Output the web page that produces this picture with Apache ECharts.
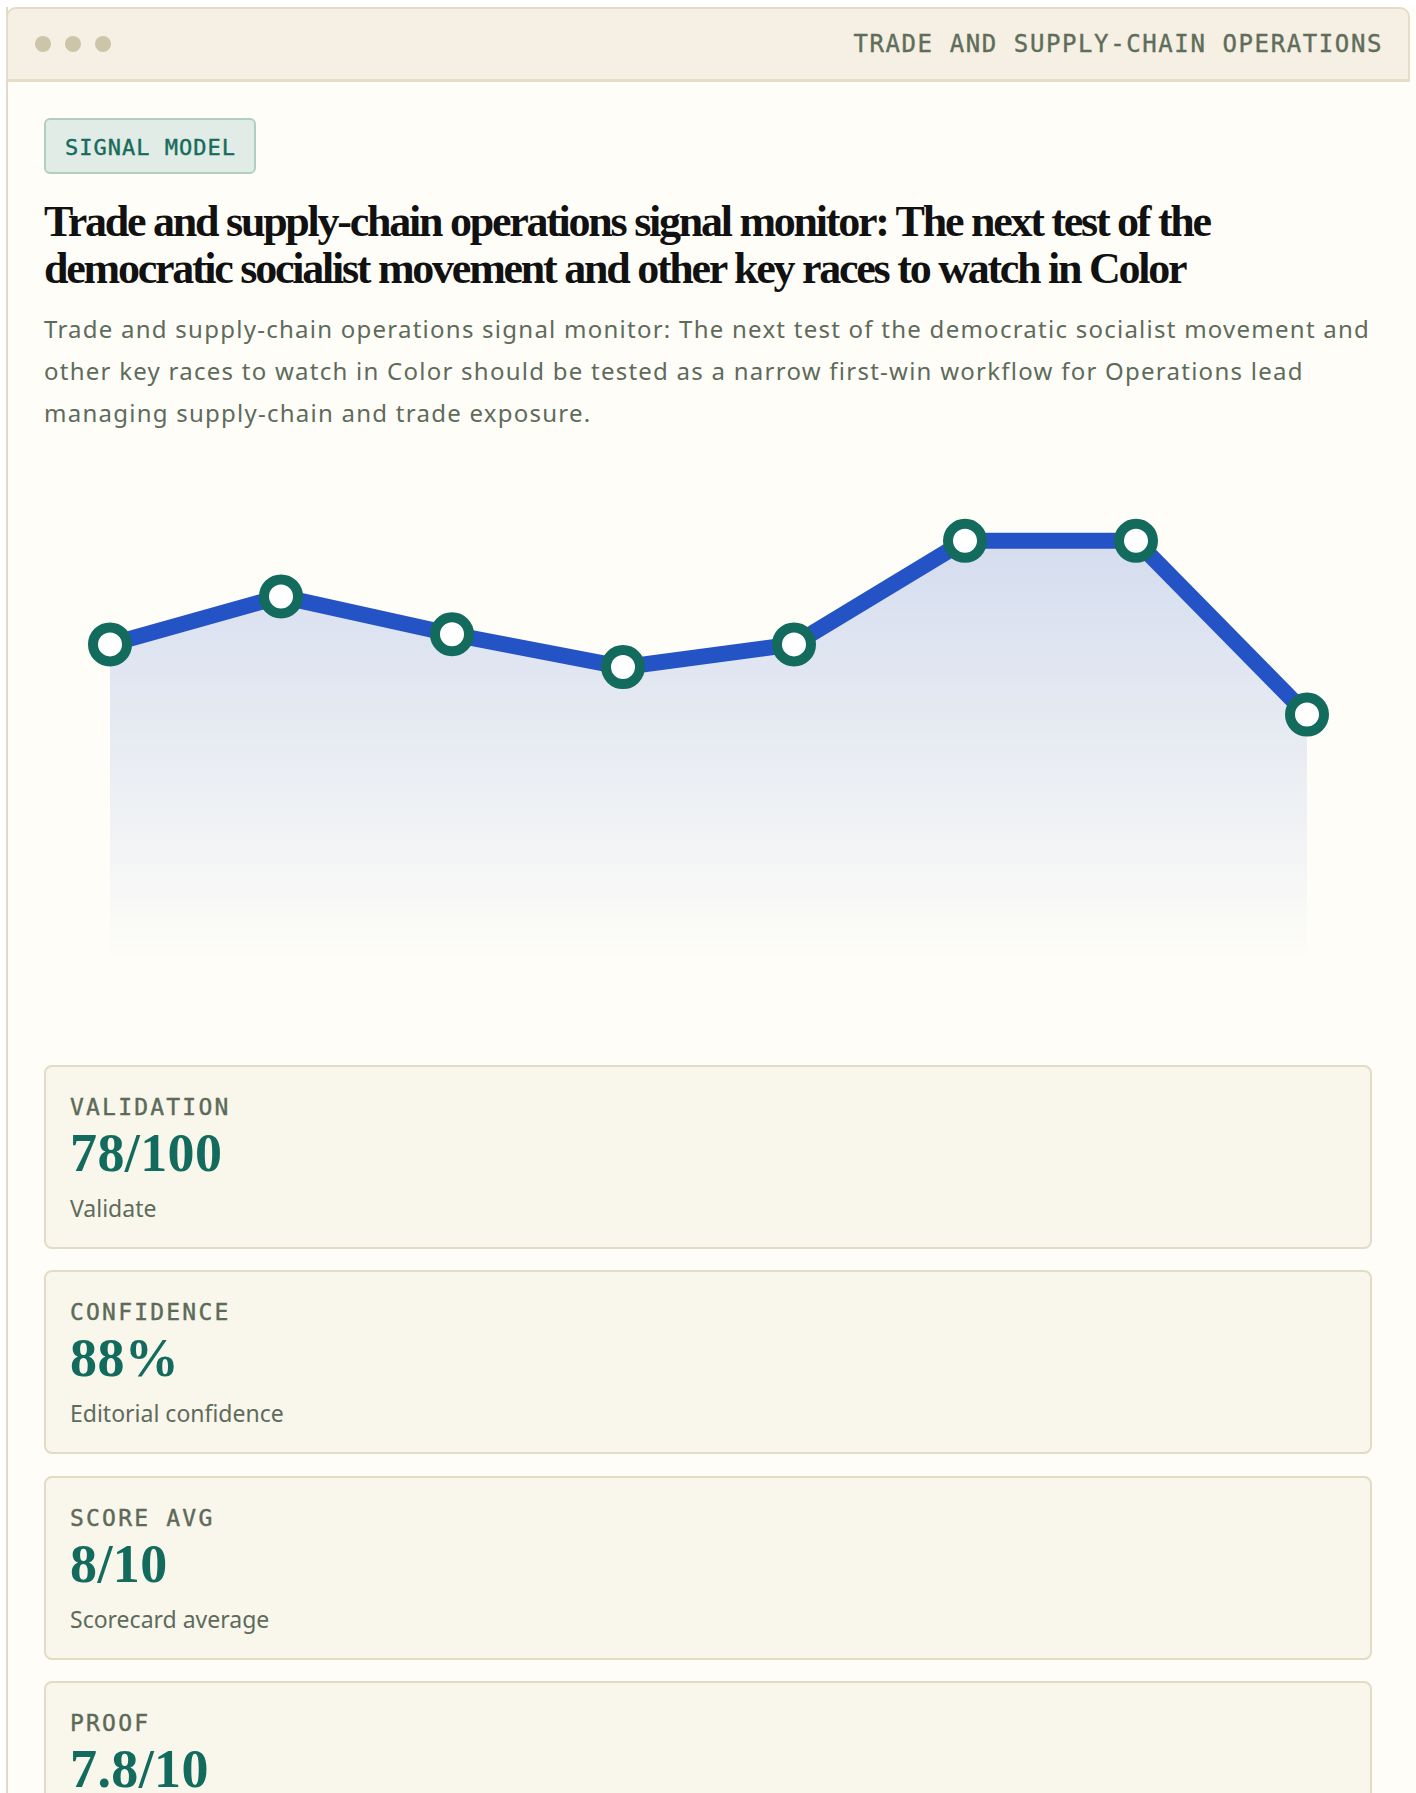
<!DOCTYPE html>
<html>
<head>
<meta charset="utf-8">
<script src="https://cdn.jsdelivr.net/npm/echarts@6/dist/echarts.min.js"></script>
<style>
  html, body { margin: 0; padding: 0; background: #ffffff; width: 1416px; height: 1793px; overflow: hidden; }
  .frame { position: absolute; left: 6px; top: 7px; width: 1420px; height: 1800px; background: #fefdf8;
           border-left: 2px solid #e2dac6; box-sizing: border-box; }
  .header { position: absolute; left: 6px; top: 7px; width: 1404px; height: 75px; background: #f6f0e4;
            border: 2px solid #e4dcc9; border-bottom: 3px solid #e6dcc8; border-radius: 10px 10px 0 0; box-sizing: border-box; }
  .dot { position: absolute; top: 27px; width: 16px; height: 16px; border-radius: 50%; background: #cdc5aa; }
  .htitle { position: absolute; right: 25px; top: 23px; font-family: "DejaVu Sans Mono", monospace; font-size: 24px;
            line-height: 1; letter-spacing: 1.6px; color: #5e6e5a; white-space: nowrap; -webkit-text-stroke: 0.4px #5e6e5a; }
  .badge { position: absolute; left: 44px; top: 118px; width: 212px; height: 56px; box-sizing: border-box;
           background: #e1ece6; border: 2px solid #b0cfc1; border-radius: 6px; }
  .badge span { position: absolute; left: 19px; top: 16.5px; font-family: "DejaVu Sans Mono", monospace; font-size: 22px;
                line-height: 1; letter-spacing: 1.0px; color: #176b5c; white-space: nowrap; -webkit-text-stroke: 0.4px #176b5c; }
  .title { position: absolute; left: 44px; top: 198px; font-family: "Liberation Serif", serif; font-weight: bold;
           font-size: 44px; line-height: 47px; letter-spacing: -2.25px; color: #111111; white-space: nowrap; }
  .sub { position: absolute; left: 44px; top: 308px; font-family: "Noto Sans", sans-serif; font-size: 24px;
         line-height: 42px; letter-spacing: 1.25px; color: #5e6b5b; white-space: nowrap; }
  #chart { position: absolute; left: 6px; top: 420px; width: 1410px; height: 600px; }
  .card { position: absolute; left: 44px; width: 1328px; height: 184px; box-sizing: border-box; background: #f9f6ec;
          border: 2px solid #e3dbc5; border-radius: 8px; }
  .card .lab { position: absolute; left: 24px; top: 29px; font-family: "DejaVu Sans Mono", monospace; font-size: 23px;
               line-height: 1; letter-spacing: 2.2px; color: #5c6a58; white-space: nowrap; -webkit-text-stroke: 0.4px #5c6a58; }
  .card .val { position: absolute; left: 24px; top: 59px; font-family: "Liberation Serif", serif; font-weight: bold;
               font-size: 54px; line-height: 1; color: #136b5e; white-space: nowrap; letter-spacing: 0.4px; }
  .card .cap { position: absolute; left: 24px; top: 130px; font-family: "Noto Sans", sans-serif; font-size: 23px;
               line-height: 1; letter-spacing: 0px; color: #5e6b5b; white-space: nowrap; }
</style>
</head>
<body>
<div class="frame"></div>
<div class="header">
  <div class="dot" style="left:27px"></div>
  <div class="dot" style="left:57px"></div>
  <div class="dot" style="left:87px"></div>
  <div class="htitle">TRADE AND SUPPLY-CHAIN OPERATIONS</div>
</div>
<div class="badge"><span>SIGNAL MODEL</span></div>
<div class="title">Trade and supply-chain operations signal monitor: The next test of the<br>democratic socialist movement and other key races to watch in Color</div>
<div class="sub">Trade and supply-chain operations signal monitor: The next test of the democratic socialist movement and<br>other key races to watch in Color should be tested as a narrow first-win workflow for Operations lead<br>managing supply-chain and trade exposure.</div>
<div id="chart"></div>
<div id="cards"></div>
<script>
// ---- data ----
const categories = ['P1', 'P2', 'P3', 'P4', 'P5', 'P6', 'P7', 'P8'];
const signalValues = [62.5, 72, 64.5, 58, 62.5, 83, 83, 48.6];
const cardLabels = ['VALIDATION', 'CONFIDENCE', 'SCORE AVG', 'PROOF'];
const cardValues = ['78/100', '88%', '8/10', '7.8/10'];
const cardCaptions = ['Validate', 'Editorial confidence', 'Scorecard average', 'Proof score'];

// ---- cards ----
const cardTops = [1065, 1270, 1476, 1681];
const cardsEl = document.getElementById('cards');
cardLabels.forEach((lab, i) => {
  const c = document.createElement('div');
  c.className = 'card';
  c.style.top = cardTops[i] + 'px';
  c.innerHTML = '<div class="lab"></div><div class="val"></div><div class="cap"></div>';
  c.querySelector('.lab').textContent = lab;
  c.querySelector('.val').textContent = cardValues[i];
  c.querySelector('.cap').textContent = cardCaptions[i];
  cardsEl.appendChild(c);
});

// ---- chart ----
const chart = echarts.init(document.getElementById('chart'), null, { renderer: 'canvas' });
chart.setOption({
  animation: false,
  backgroundColor: 'transparent',
  grid: { left: 104, right: 109, top: 35, bottom: 60 },
  xAxis: { type: 'category', data: categories, boundaryGap: false, show: false },
  yAxis: { type: 'value', min: 0, max: 100, show: false, splitLine: { show: false } },
  series: [{
    type: 'line',
    data: signalValues,
    symbol: 'circle',
    symbolSize: 34,
    lineStyle: { color: '#2453c6', width: 16, join: 'miter' },
    itemStyle: { color: '#ffffff', borderColor: '#136b5e', borderWidth: 10 },
    areaStyle: {
      color: new echarts.graphic.LinearGradient(0, 0, 0, 1, [
        { offset: 0, color: 'rgba(36,84,199,0.27)' },
        { offset: 0.55, color: 'rgba(36,84,199,0.13)' },
        { offset: 1, color: 'rgba(36,84,199,0.0)' }
      ])
    },
    emphasis: { disabled: true }
  }]
});
</script>
</body>
</html>
